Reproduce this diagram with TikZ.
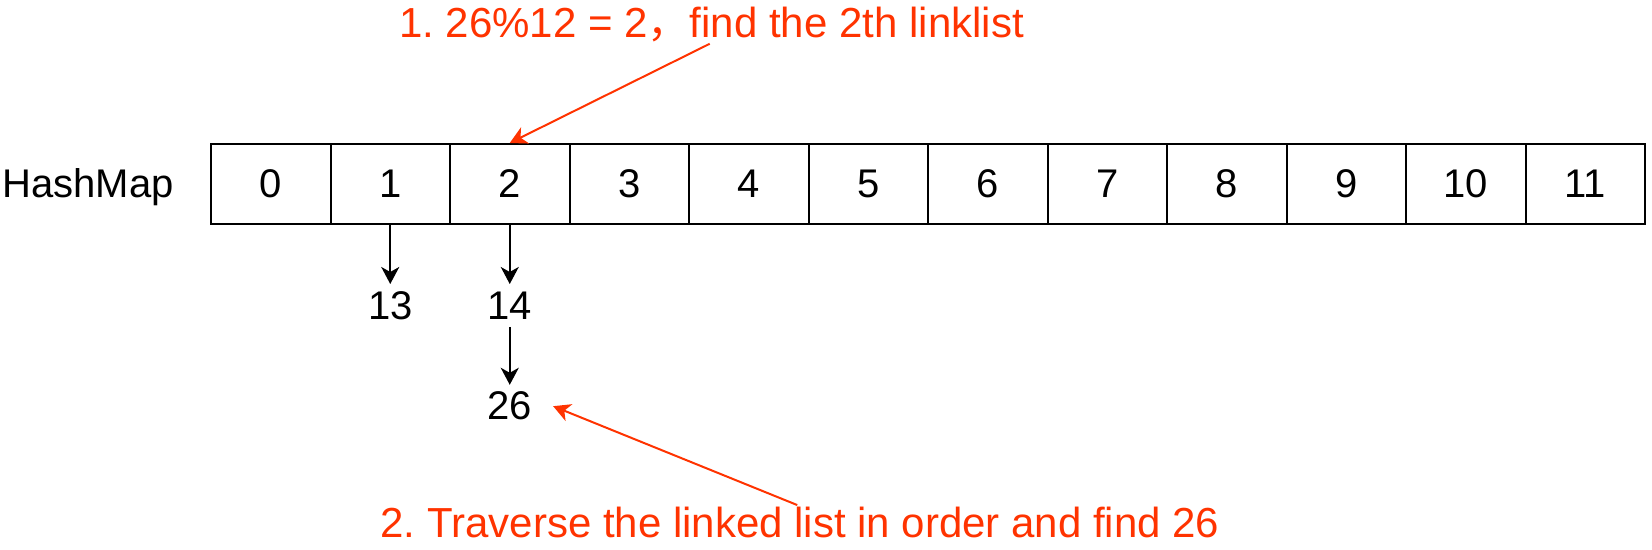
\documentclass[tikz,border=0pt]{standalone}
\usepackage{fontspec}
\setmainfont{Liberation Sans}
\newfontfamily\cjk{Noto Sans CJK SC}
\usepackage{tikz}
\usetikzlibrary{math}
\usetikzlibrary{arrows.meta}
\usetikzlibrary{positioning}
\definecolor{notered}{RGB}{255,51,0}
\frenchspacing

\begin{document}
\begin{tikzpicture}[x=0.5pt, y=0.5pt, font=\fontsize{20}{24}\selectfont,
  cell/.style={draw, line width=1pt, minimum width=59.75pt, minimum height=40pt, inner sep=0pt},
  num/.style={minimum width=43pt, minimum height=21pt, inner sep=0pt},
  note/.style={text=notered, inner sep=0pt, font=\fontsize{21}{25}\selectfont},
  link/.style={line width=1pt, -{Stealth[length=8.5pt, width=9pt, inset=2.5pt]}},
  hint/.style={link, color=notered}]
  \tikzmath{
    \cw = 119.5;
    \xl = 211;
    \yc = -184;
  }
  \useasboundingbox (0, 0) rectangle (1652, -550);

  % hash table
  \foreach \i in {0, ..., 11} {
    \node [cell] (c\i) at ({\xl+(\i+0.5)*\cw}, \yc) {\i};
  }
  \node [inner sep=0pt, base left=18pt of c0] (hm) {HashMap};

  % linked lists
  \node [num, below=29.5pt of c1] (n13) {13};
  \node [num, below=29.5pt of c2] (n14) {14};
  \node [num, below=29pt of n14] (n26) {26};
  \draw [link] (c1) -- (n13);
  \draw [link] (c2) -- (n14);
  \draw [link] (n14) -- (n26);

  % steps
  \node [note, anchor=base] (s1) at (711.5, -38) {1. 26\%12 = 2{\cjk ，}find the 2th linklist};
  \node [note, anchor=base] (s2) at (800, -537) {2. Traverse the linked list in order and find 26};
  \draw [hint, shorten <=1pt] (s1.south) -- (c2.north);
  \draw [hint, shorten <=1.5pt] (s2.north) -- (n26.east);
\end{tikzpicture}
\end{document}
